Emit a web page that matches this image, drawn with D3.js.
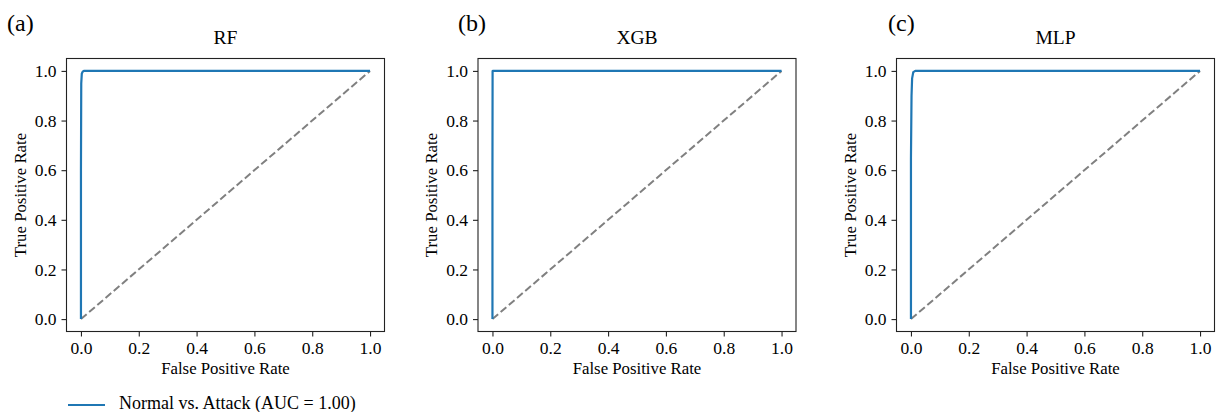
<!DOCTYPE html>
<html>
<head>
<meta charset="utf-8">
<script src="https://cdn.jsdelivr.net/npm/d3@7"></script>
<style>
  body { margin: 0; background: #fff; }
  svg text { font-family: "Liberation Serif", "Times New Roman", serif; fill: #000; }
</style>
</head>
<body>
<svg width="1216" height="412"></svg>
<script>
const models = ["RF", "XGB", "MLP"];
const panelTags = ["(a)", "(b)", "(c)"];
const ticks = [0.0, 0.2, 0.4, 0.6, 0.8, 1.0];
const legendLabel = "Normal vs. Attack (AUC = 1.00)";

// ROC points [fpr, tpr]
const rocRF = [[0, 0], [0, 0.6], [0.001, 0.95], [0.003, 0.99], [0.006, 0.997], [0.01, 1], [1, 1]];
const rocXGB = [[0, 0], [0, 0.6], [0.0005, 0.999], [0.001, 1], [1, 1]];
const rocMLP = [[0, 0], [0, 0.65], [0.002, 0.9], [0.004, 0.97], [0.008, 0.995], [0.015, 1], [1, 1]];
const chance = [[0, 0], [1, 1]];

const curves = [rocRF, rocXGB, rocMLP];

const svg = d3.select("svg");
const panelLeft = [66.5, 478, 896.5];
const panelW = 318;
const axTop = 58.5, axBottom = 331.5;
const tagX = [7, 458, 888];

models.forEach((name, i) => {
  const x = d3.scaleLinear().domain([-0.05, 1.05]).range([panelLeft[i], panelLeft[i] + panelW]);
  const y = d3.scaleLinear().domain([-0.05, 1.05]).range([axBottom, axTop]);
  const g = svg.append("g");

  const line = d3.line().x(d => x(d[0])).y(d => y(d[1]));

  g.append("path")
      .datum(chance)
      .attr("d", line)
      .attr("fill", "none")
      .attr("stroke", "#808080")
      .attr("stroke-width", 2)
      .attr("stroke-dasharray", "7.5,3.3");

  g.append("path")
      .datum(curves[i])
      .attr("d", line)
      .attr("fill", "none")
      .attr("stroke", "#1f77b4")
      .attr("stroke-width", 2.2)
      .attr("stroke-linejoin", "round");

  // frame
  g.append("rect")
      .attr("x", x.range()[0])
      .attr("y", axTop)
      .attr("width", panelW)
      .attr("height", axBottom - axTop)
      .attr("fill", "none")
      .attr("stroke", "#222")
      .attr("stroke-width", 1.1);

  const xAxis = g.append("g")
      .attr("transform", `translate(0,${axBottom})`)
      .call(d3.axisBottom(x).tickValues(ticks).tickFormat(d3.format(".1f")).tickSize(5).tickPadding(5));
  const yAxis = g.append("g")
      .attr("transform", `translate(${panelLeft[i]},0)`)
      .call(d3.axisLeft(y).tickValues(ticks).tickFormat(d3.format(".1f")).tickSize(5).tickPadding(5));
  [xAxis, yAxis].forEach(a => {
    a.select(".domain").remove();
    a.selectAll("line").attr("stroke", "#222").attr("stroke-width", 1.1);
    a.selectAll("text").style("font-size", "17.5px").attr("fill", "#000")
        .style("font-family", "'Liberation Serif', serif");
  });

  const cx = panelLeft[i] + panelW / 2;
  g.append("text")
      .attr("x", cx)
      .attr("y", 44)
      .attr("text-anchor", "middle")
      .style("font-size", "19.5px")
      .text(name);

  g.append("text")
      .attr("x", cx)
      .attr("y", 374)
      .attr("text-anchor", "middle")
      .style("font-size", "16.8px")
      .text("False Positive Rate");

  g.append("text")
      .attr("transform", `translate(${panelLeft[i] - 41},${(axTop + axBottom) / 2}) rotate(-90)`)
      .attr("text-anchor", "middle")
      .style("font-size", "16.8px")
      .text("True Positive Rate");

  g.append("text")
      .attr("x", tagX[i])
      .attr("y", 31)
      .style("font-size", "24px")
      .text(panelTags[i]);
});

// legend
const legend = svg.append("g").attr("transform", "translate(68,405)");
legend.append("line")
    .attr("x1", 0).attr("x2", 37)
    .attr("stroke", "#1f77b4")
    .attr("stroke-width", 2.2);
legend.append("text")
    .attr("x", 51)
    .attr("y", 3.5)
    .style("font-size", "18px")
    .text(legendLabel);
</script>
</body>
</html>
